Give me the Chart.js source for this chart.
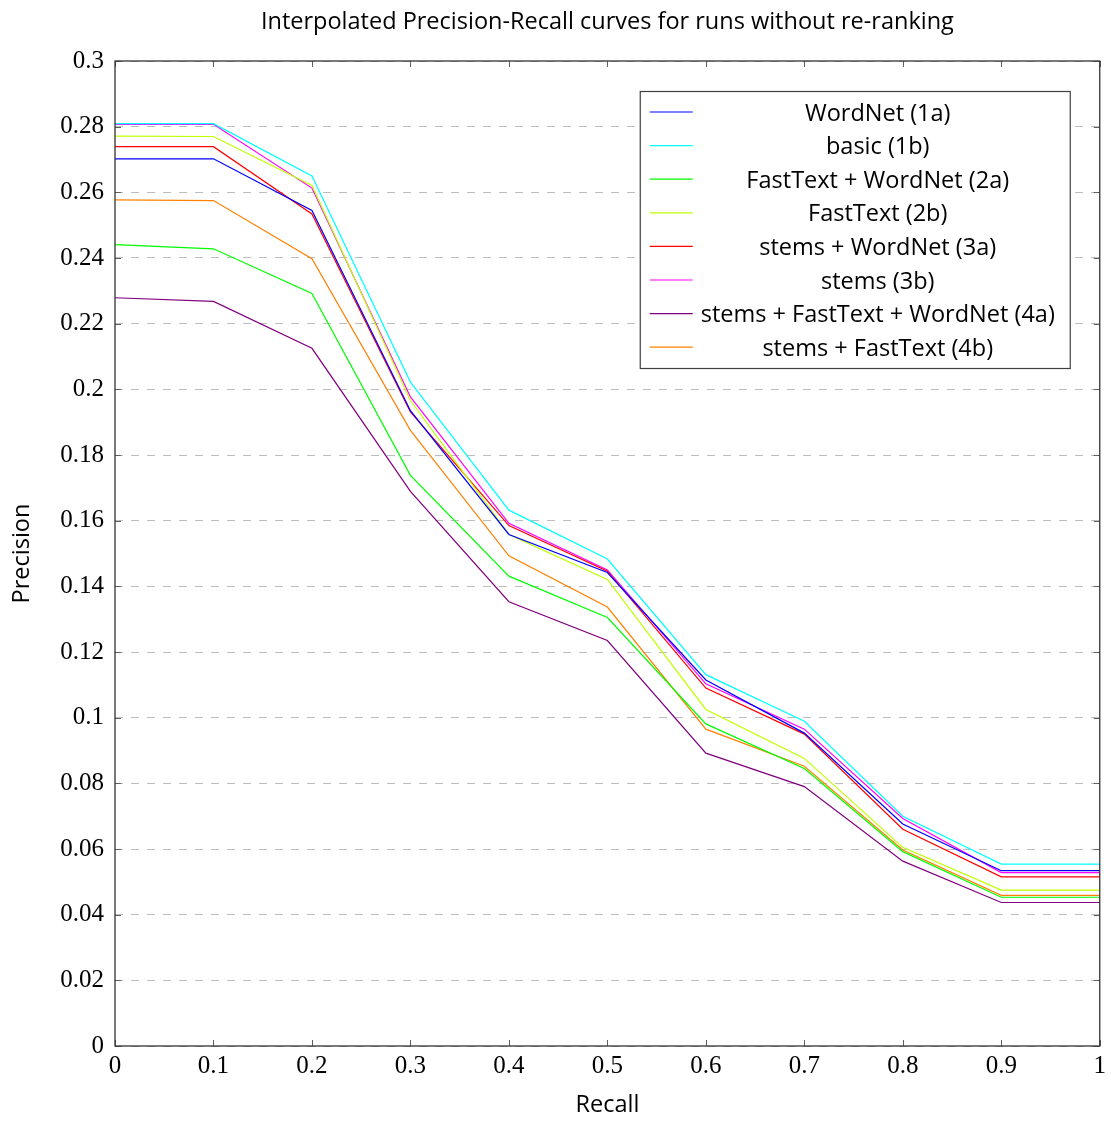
<!DOCTYPE html>
<html>
<head>
<meta charset="utf-8">
<script src="https://cdn.jsdelivr.net/npm/chart.js@4"></script>
<style>
  html, body { margin: 0; padding: 0; background: #fff; }
  #wrap { width: 1111px; height: 1122px; }
</style>
</head>
<body>
<div id="wrap"><canvas id="pr_chart" width="1111" height="1122"></canvas></div>
<script>
// recall levels (x)
const recall = [0, 0.1, 0.2, 0.3, 0.4, 0.5, 0.6, 0.7, 0.8, 0.9, 1.0];

// interpolated precision per run
const wordnet1a   = [0.2702, 0.2702, 0.2545, 0.1935, 0.1558, 0.1442, 0.1115, 0.0953, 0.0676, 0.0534, 0.0534];
const basic1b     = [0.2809, 0.2809, 0.2650, 0.2022, 0.1632, 0.1483, 0.1131, 0.0989, 0.0700, 0.0554, 0.0554];
const ftWordnet2a = [0.2441, 0.2428, 0.2292, 0.1738, 0.1431, 0.1305, 0.0981, 0.0845, 0.0592, 0.0453, 0.0453];
const fastText2b  = [0.2771, 0.2770, 0.2621, 0.1966, 0.1558, 0.1421, 0.1025, 0.0876, 0.0605, 0.0475, 0.0475];
const stemsWn3a   = [0.2739, 0.2739, 0.2534, 0.1931, 0.1585, 0.1446, 0.1090, 0.0950, 0.0660, 0.0515, 0.0515];
const stems3b     = [0.2807, 0.2807, 0.2613, 0.1977, 0.1592, 0.1450, 0.1103, 0.0965, 0.0693, 0.0528, 0.0528];
const stemsFtWn4a = [0.2279, 0.2268, 0.2125, 0.1689, 0.1353, 0.1235, 0.0892, 0.0790, 0.0563, 0.0437, 0.0437];
const stemsFt4b   = [0.2577, 0.2575, 0.2398, 0.1875, 0.1493, 0.1337, 0.0965, 0.0852, 0.0597, 0.0459, 0.0459];

const runLabels = ['WordNet (1a)', 'basic (1b)', 'FastText + WordNet (2a)', 'FastText (2b)',
  'stems + WordNet (3a)', 'stems (3b)', 'stems + FastText + WordNet (4a)', 'stems + FastText (4b)'];
const runValues = [wordnet1a, basic1b, ftWordnet2a, fastText2b, stemsWn3a, stems3b, stemsFtWn4a, stemsFt4b];
const runColors = ['#0000ff', '#00ffff', '#00ff00', '#bfff00', '#ff0000', '#ff00ff', '#800080', '#ff8000'];

const yTicks = [0, 0.02, 0.04, 0.06, 0.08, 0.1, 0.12, 0.14, 0.16, 0.18, 0.2, 0.22, 0.24, 0.26, 0.28, 0.3];

const sansFont = '"Open Sans", Lato, sans-serif';
const serifFont = '"Liberation Serif", "DejaVu Serif", serif';

const datasets = runLabels.map((label, i) => ({
  label: label,
  data: recall.map((r, j) => ({ x: r, y: runValues[i][j] })),
  borderColor: runColors[i],
  backgroundColor: runColors[i],
  borderWidth: 1.2,
  pointRadius: 0,
  tension: 0,
  fill: false
}));

// frame, inward tick marks and the boxed legend (pgfplots style)
const framePlugin = {
  id: 'framePlugin',
  afterDatasetsDraw(chart) {
    const ctx = chart.ctx;
    const a = chart.chartArea;
    const xs = chart.scales.x, ys = chart.scales.y;
    ctx.save();
    ctx.strokeStyle = '#606060';
    ctx.lineWidth = 1;
    const tl = 6;
    ctx.beginPath();
    recall.forEach(v => {
      const px = Math.round(xs.getPixelForValue(v)) + 0.5;
      ctx.moveTo(px, a.bottom); ctx.lineTo(px, a.bottom - tl);
      ctx.moveTo(px, a.top); ctx.lineTo(px, a.top + tl);
    });
    yTicks.forEach(v => {
      const py = Math.round(ys.getPixelForValue(v)) + 0.5;
      ctx.moveTo(a.left, py); ctx.lineTo(a.left + tl, py);
      ctx.moveTo(a.right, py); ctx.lineTo(a.right - tl, py);
    });
    ctx.stroke();
    ctx.strokeStyle = '#333';
    ctx.lineWidth = 1.3;
    ctx.strokeRect(a.left, a.top, a.right - a.left, a.bottom - a.top);

    // legend box
    const bx = a.right - 460, by = a.top + 30, bw = 430, bh = 277;
    ctx.fillStyle = '#fff';
    ctx.fillRect(bx, by, bw, bh);
    ctx.strokeStyle = '#404040';
    ctx.lineWidth = 1.2;
    ctx.strokeRect(bx + 0.5, by + 0.5, bw, bh);
    ctx.font = '23.5px ' + sansFont;
    ctx.textAlign = 'center';
    ctx.textBaseline = 'middle';
    chart.data.datasets.forEach((ds, i) => {
      const cy = by + 21 + i * 33.6;
      ctx.strokeStyle = ds.borderColor;
      ctx.lineWidth = 1.2;
      ctx.beginPath();
      ctx.moveTo(bx + 10, cy); ctx.lineTo(bx + 53, cy);
      ctx.stroke();
      ctx.fillStyle = '#000';
      ctx.fillText(ds.label, bx + 238, cy + 2);
    });
    ctx.restore();
  }
};

const fmt = v => String(Number(v.toFixed(2)));

new Chart(document.getElementById('pr_chart'), {
  type: 'line',
  data: { datasets: datasets },
  options: {
    responsive: false,
    animation: false,
    layout: { padding: { left: 0, right: 11, top: 0, bottom: 0 } },
    plugins: {
      legend: { display: false },
      tooltip: { enabled: false },
      title: {
        display: true,
        fullSize: false,
        text: 'Interpolated Precision-Recall curves for runs without re-ranking',
        color: '#000',
        font: { family: sansFont, size: 23.5, weight: 'normal' },
        padding: { top: 8, bottom: 24.8 }
      }
    },
    scales: {
      x: {
        type: 'linear',
        min: 0, max: 1,
        afterFit: s => { s.height = 76; },
        afterBuildTicks: s => { s.ticks = recall.map(v => ({ value: v })); },
        grid: { display: false, drawTicks: false },
        border: { display: false },
        ticks: { color: '#000', padding: 5, maxRotation: 0, font: { family: serifFont, size: 25 }, callback: fmt },
        title: { display: true, text: 'Recall', color: '#000', font: { family: sansFont, size: 23.5 }, padding: { top: 0, bottom: 3 } }
      },
      y: {
        min: 0, max: 0.3,
        afterFit: s => { s.width = 115; },
        afterBuildTicks: s => { s.ticks = yTicks.map(v => ({ value: v })); },
        grid: { color: '#bdbdbd', lineWidth: 1, drawTicks: false },
        border: { display: false, dash: [8, 8] },
        ticks: { color: '#000', padding: 11, font: { family: serifFont, size: 25 }, callback: fmt },
        title: { display: true, text: 'Precision', color: '#000', font: { family: sansFont, size: 23.5 }, padding: { top: 8, bottom: 0 } }
      }
    }
  },
  plugins: [framePlugin]
});
</script>
</body>
</html>
